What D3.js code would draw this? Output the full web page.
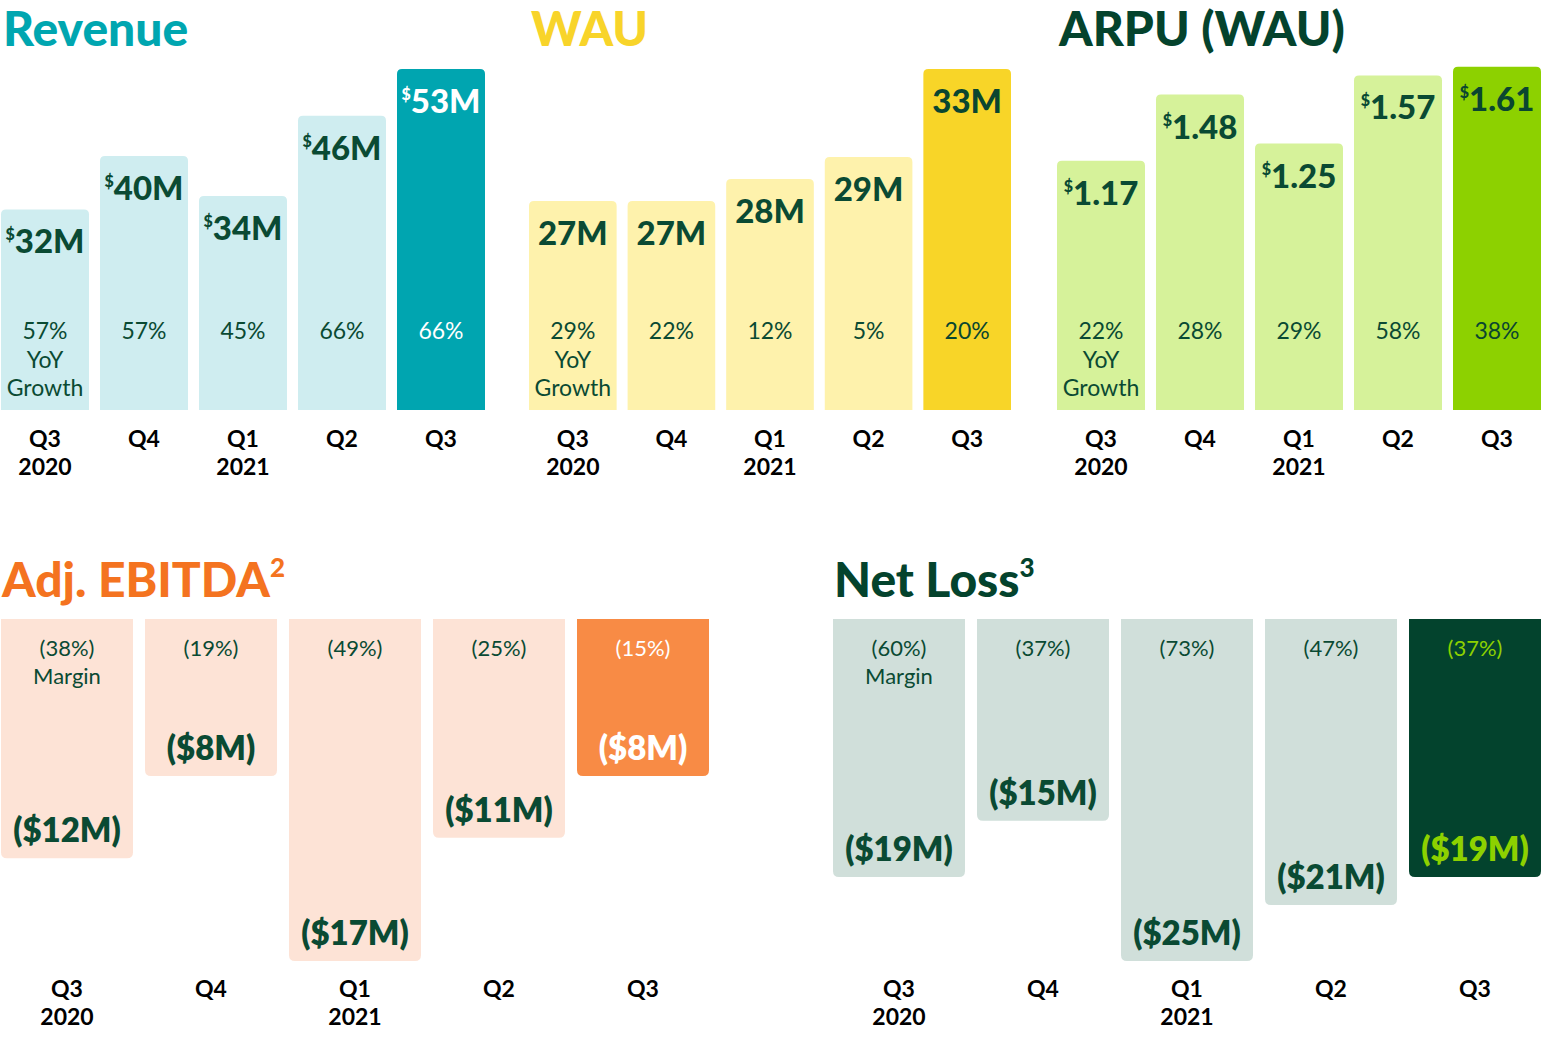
<!DOCTYPE html>
<html>
<head>
<meta charset="utf-8">
<script src="https://cdn.jsdelivr.net/npm/d3@7"></script>
<style>
  body { margin: 0; background: #fff; }
  svg { display: block; font-family: Lato, "Noto Sans", sans-serif; }
</style>
</head>
<body>
<div id="wrapper"></div>
<script>
// quarters on every chart
const quarterLabels = ["Q3", "Q4", "Q1", "Q2", "Q3"];
const yearLabels = ["2020", "", "2021", "", ""];

// top row
const revenue = [32, 40, 34, 46, 53];
const revenueGrowth = [57, 57, 45, 66, 66];
const wau = [27, 27, 28, 29, 33];
const wauGrowth = [29, 22, 12, 5, 20];
const arpu = [1.17, 1.48, 1.25, 1.57, 1.61];
const arpuGrowth = [22, 28, 29, 58, 38];

// bottom row
const ebitda = [-12, -8, -17, -11, -8];
const ebitdaMargin = [-38, -19, -49, -25, -15];
const netLoss = [-19, -15, -25, -21, -19];
const netLossMargin = [-60, -37, -73, -47, -37];

const darkGreen = "#0A4A33";

const dimensions = { width: 1548, height: 1043 };

const svg = d3.select("#wrapper")
    .append("svg")
    .attr("width", dimensions.width)
    .attr("height", dimensions.height);

// path for a bar with rounded corners on one end only
function barPath(x, y0, y1, w, r, roundTop) {
    if (roundTop) {
        // y0 = top, y1 = bottom
        return `M${x},${y1} L${x},${y0 + r} Q${x},${y0} ${x + r},${y0} L${x + w - r},${y0} Q${x + w},${y0} ${x + w},${y0 + r} L${x + w},${y1} Z`;
    }
    // y0 = top, y1 = bottom, round the bottom
    return `M${x},${y0} L${x + w},${y0} L${x + w},${y1 - r} Q${x + w},${y1} ${x + w - r},${y1} L${x + r},${y1} Q${x},${y1} ${x},${y1 - r} Z`;
}

function drawTitle(x, y, text, sup, color) {
    const t = svg.append("text")
        .attr("x", x)
        .attr("y", y)
        .attr("fill", color)
        .attr("font-size", 48)
        .attr("font-weight", 900)
        .text(text);
    if (sup) {
        t.append("tspan")
            .attr("font-size", 26)
            .attr("dy", -20)
            .text(sup);
    }
}

function drawAxis(xScale, y) {
    const axis = d3.axisBottom(xScale)
        .tickSize(0)
        .tickPadding(0)
        .tickFormat(i => quarterLabels[i]);
    const g = svg.append("g")
        .attr("transform", `translate(0, ${y})`)
        .call(axis);
    g.select(".domain").remove();
    g.selectAll(".tick text")
        .attr("y", 0)
        .attr("dy", null)
        .attr("fill", "#000")
        .attr("font-family", "Lato, sans-serif")
        .attr("font-size", 23)
        .attr("font-weight", 700)
        .each(function(i) {
            if (yearLabels[i]) {
                d3.select(this).append("tspan")
                    .attr("x", 0)
                    .attr("dy", 28)
                    .text(yearLabels[i]);
            }
        });
}

// upward bar charts (top row)
function drawTopChart(opts) {
    const { values, growth, x0, x1, domain, title, titleColor, light, highlight,
            hiLabel, hiPct, dollar, fmt, extra } = opts;
    const baseY = 410;
    const xScale = d3.scaleBand()
        .domain(d3.range(values.length))
        .range([x0, x1])
        .paddingInner(11 / 99)
        .paddingOuter(0);
    const yScale = d3.scaleLinear()
        .domain(domain)
        .range([baseY, 69]);

    drawTitle(x0 + 2, 46, title, null, titleColor);

    const last = values.length - 1;
    svg.append("g").selectAll("path")
        .data(values)
        .join("path")
        .attr("d", (d, i) => barPath(xScale(i), yScale(d), baseY, xScale.bandwidth(), 5, true))
        .attr("fill", (d, i) => i === last ? highlight : light);

    // value labels
    const labels = svg.append("g").selectAll("text")
        .data(values)
        .join("text")
        .attr("x", (d, i) => xScale(i) + xScale.bandwidth() / 2)
        .attr("y", d => yScale(d) + 44)
        .attr("text-anchor", "middle")
        .attr("font-size", 33)
        .attr("font-weight", 900)
        .attr("fill", (d, i) => i === last ? hiLabel : darkGreen);
    if (dollar) {
        labels.append("tspan")
            .attr("font-size", 16)
            .attr("dy", -13)
            .text("$");
        labels.append("tspan")
            .attr("dy", 13)
            .text(d => fmt(d));
    } else {
        labels.text(d => fmt(d));
    }

    // growth labels
    svg.append("g").selectAll("text")
        .data(growth)
        .join("text")
        .attr("x", (d, i) => xScale(i) + xScale.bandwidth() / 2)
        .attr("y", 339)
        .attr("text-anchor", "middle")
        .attr("font-size", 23)
        .attr("fill", (d, i) => i === last ? hiPct : darkGreen)
        .text(d => d + "%")
        .each(function(d, i) {
            if (i === 0) {
                extra.forEach(line => {
                    d3.select(this).append("tspan")
                        .attr("x", xScale(i) + xScale.bandwidth() / 2)
                        .attr("dy", 28.5)
                        .text(line);
                });
            }
        });

    drawAxis(xScale, 447);
}

// downward bar charts (bottom row)
function drawBottomChart(opts) {
    const { values, margin, x0, x1, domain, title, sup, titleColor, light, highlight,
            hiLabel, hiPct } = opts;
    const topY = 619;
    const xScale = d3.scaleBand()
        .domain(d3.range(values.length))
        .range([x0, x1])
        .paddingInner(12 / 144)
        .paddingOuter(0);
    const yScale = d3.scaleLinear()
        .domain(domain)
        .range([topY, 961]);

    drawTitle(x0 + 1, 597, title, sup, titleColor);

    const last = values.length - 1;
    svg.append("g").selectAll("path")
        .data(values)
        .join("path")
        .attr("d", (d, i) => barPath(xScale(i), topY, yScale(d), xScale.bandwidth(), 6, false))
        .attr("fill", (d, i) => i === last ? highlight : light);

    svg.append("g").selectAll("text")
        .data(values)
        .join("text")
        .attr("x", (d, i) => xScale(i) + xScale.bandwidth() / 2)
        .attr("y", d => yScale(d) - 16)
        .attr("text-anchor", "middle")
        .attr("font-size", 33)
        .attr("font-weight", 800)
        .attr("fill", (d, i) => i === last ? hiLabel : darkGreen)
        .text(d => `($${Math.abs(d)}M)`);

    svg.append("g").selectAll("text")
        .data(margin)
        .join("text")
        .attr("x", (d, i) => xScale(i) + xScale.bandwidth() / 2)
        .attr("y", 656)
        .attr("text-anchor", "middle")
        .attr("font-size", 22)
        .attr("fill", (d, i) => i === last ? hiPct : darkGreen)
        .text(d => `(${Math.abs(d)}%)`)
        .each(function(d, i) {
            if (i === 0) {
                d3.select(this).append("tspan")
                    .attr("x", xScale(i) + xScale.bandwidth() / 2)
                    .attr("dy", 28)
                    .text("Margin");
            }
        });

    drawAxis(xScale, 997);
}

drawTopChart({
    values: revenue, growth: revenueGrowth, x0: 1, x1: 485, domain: [2, 53],
    title: "Revenue", titleColor: "#00A6B0", light: "#CFEDF0", highlight: "#00A5B0",
    hiLabel: "#FFFFFF", hiPct: "#FFFFFF", dollar: true, fmt: d => d + "M",
    extra: ["YoY", "Growth"]
});

drawTopChart({
    values: wau, growth: wauGrowth, x0: 529, x1: 1011, domain: [17.5, 33],
    title: "WAU", titleColor: "#F8D42A", light: "#FEF2AC", highlight: "#F8D528",
    hiLabel: "#0A4630", hiPct: "#0A4630", dollar: false, fmt: d => d + "M",
    extra: ["YoY", "Growth"]
});

drawTopChart({
    values: arpu, growth: arpuGrowth, x0: 1057, x1: 1541, domain: [0, 1.6],
    title: "ARPU (WAU)", titleColor: "#04432D", light: "#D6F29A", highlight: "#8DD100",
    hiLabel: "#0A4630", hiPct: "#0A4630", dollar: true, fmt: d3.format(".2f"),
    extra: ["YoY", "Growth"]
});

drawBottomChart({
    values: ebitda, margin: ebitdaMargin, x0: 1, x1: 709, domain: [-0.36, -17],
    title: "Adj. EBITDA", sup: "2", titleColor: "#F47320", light: "#FDE3D6",
    highlight: "#F88B45", hiLabel: "#FFFFFF", hiPct: "#FFFFFF"
});

drawBottomChart({
    values: netLoss, margin: netLossMargin, x0: 833, x1: 1541, domain: [-0.6, -25],
    title: "Net Loss", sup: "3", titleColor: "#04432D", light: "#D0DFDA",
    highlight: "#03432D", hiLabel: "#8DD100", hiPct: "#8DD100"
});
</script>
</body>
</html>
